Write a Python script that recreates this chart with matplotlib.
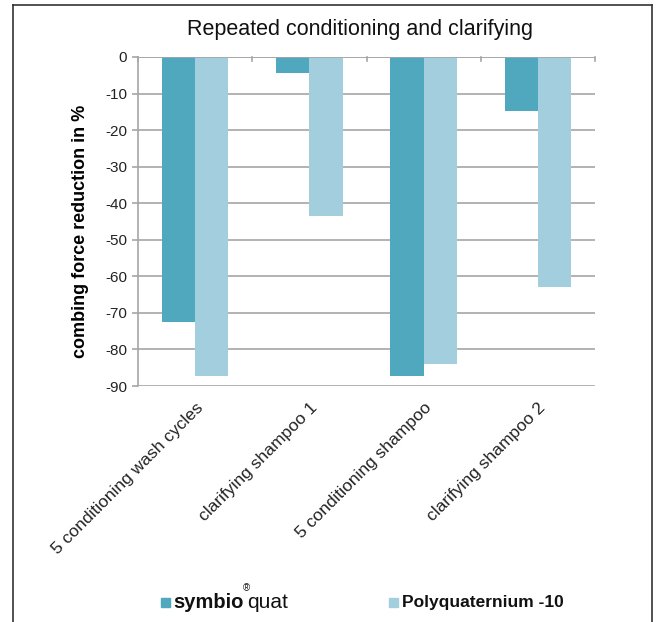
import matplotlib
matplotlib.use("Agg")
import matplotlib.pyplot as plt
import numpy as np
from matplotlib.patches import Rectangle
from matplotlib.lines import Line2D

plt.rcParams['font.family'] = ['Liberation Sans', 'DejaVu Sans']

# données : réduction de la force de peignage (%)
categories = ["5 conditioning wash cycles", "clarifying shampoo 1",
              "5 conditioning shampoo", "clarifying shampoo 2"]
symbioquat = [-72.4, -4.3, -87.3, -14.8]
polyquat10 = [-87.3, -43.5, -84.0, -62.9]
yticks = [0, -10, -20, -30, -40, -50, -60, -70, -80, -90]

DARK = "#50a8bf"
LIGHT = "#a2cedd"
GRID = "#a6a6a6"

W, H = 659, 622
fig = plt.figure(figsize=(W / 100, H / 100), dpi=100)

# axes en pixels -> coordonnées figure
x0, x1, y0, y1 = 138, 595, 57, 386
ax = fig.add_axes([x0 / W, 1 - y1 / H, (x1 - x0) / W, (y1 - y0) / H])

x = np.arange(len(categories))
bw = 0.29
ax.bar(x - bw / 2, symbioquat, width=bw, color=DARK, zorder=3)
ax.bar(x + bw / 2, polyquat10, width=bw, color=LIGHT, zorder=3)

ax.set_xlim(-0.5, len(categories) - 0.5)
ax.set_ylim(-90, 0)
ax.set_yticks(yticks)
ax.set_yticklabels([str(v) for v in yticks], fontsize=11, color="#222222")
ax.yaxis.grid(True, color=GRID, lw=1.2, zorder=0)
ax.tick_params(axis='y', length=4, width=1.2, color=GRID, pad=4)

# étiquettes des catégories en diagonale
ax.set_xticks(x)
ax.set_xticklabels(categories, rotation=45, ha='right', rotation_mode='anchor',
                   fontsize=12.5, color="#222222")
ax.tick_params(axis='x', length=0, pad=10)

# petites graduations entre les groupes, sur la ligne du zéro
for b in np.arange(-0.5, len(categories), 1.0):
    ax.plot([b, b], [0, -1.2], color=GRID, lw=1.2, zorder=4, clip_on=False)

for s in ['top', 'right']:
    ax.spines[s].set_visible(False)
ax.spines['left'].set_color(GRID)
ax.spines['left'].set_linewidth(1.2)
ax.spines['bottom'].set_visible(False)
ax.axhline(0, color=GRID, lw=1.2, zorder=4)

ax.set_ylabel("combing force reduction in %", fontsize=13, fontweight='bold')
ax.yaxis.set_label_coords(-0.108, 0.47)

fig.text(360 / W, 1 - 29 / H, "Repeated conditioning and clarifying",
         ha='center', va='center', fontsize=15.5, color="#111111")

# cadre extérieur (ouvert en bas)
fig.add_artist(Line2D([13 / W, 13 / W], [0, 1 - 5 / H], transform=fig.transFigure,
                      color="#333333", lw=1.2))
fig.add_artist(Line2D([13 / W, 652 / W], [1 - 5 / H, 1 - 5 / H],
                      transform=fig.transFigure, color="#333333", lw=1.2))
fig.add_artist(Line2D([652 / W, 652 / W], [0, 1 - 5 / H], transform=fig.transFigure,
                      color="#333333", lw=1.2))

# légende
ly = 1 - 602 / H
sq = 9
fig.add_artist(Rectangle((161 / W, ly - sq / 2 / H), sq / W, sq / H,
                         transform=fig.transFigure, color=DARK))
fig.add_artist(Rectangle((389 / W, ly - sq / 2 / H), sq / W, sq / H,
                         transform=fig.transFigure, color=LIGHT))

t1 = fig.text(173 / W, ly, "symbio", fontsize=14.5, fontweight='heavy',
              ha='left', va='center', color="#111111")
fig.canvas.draw()
bb = t1.get_window_extent()
qx = (bb.x1 + 4) / W
fig.text(qx, ly, "quat", fontsize=15, fontweight='light',
         ha='left', va='center', color="#111111")
fig.text(qx - 1 / W, 1 - 588 / H, "®", fontsize=7, ha='center', va='center',
         color="#111111")
fig.text(402 / W, ly, "Polyquaternium -10", fontsize=12.5, fontweight='bold',
         ha='left', va='center', color="#111111")

fig.savefig("out.png", dpi=100)
